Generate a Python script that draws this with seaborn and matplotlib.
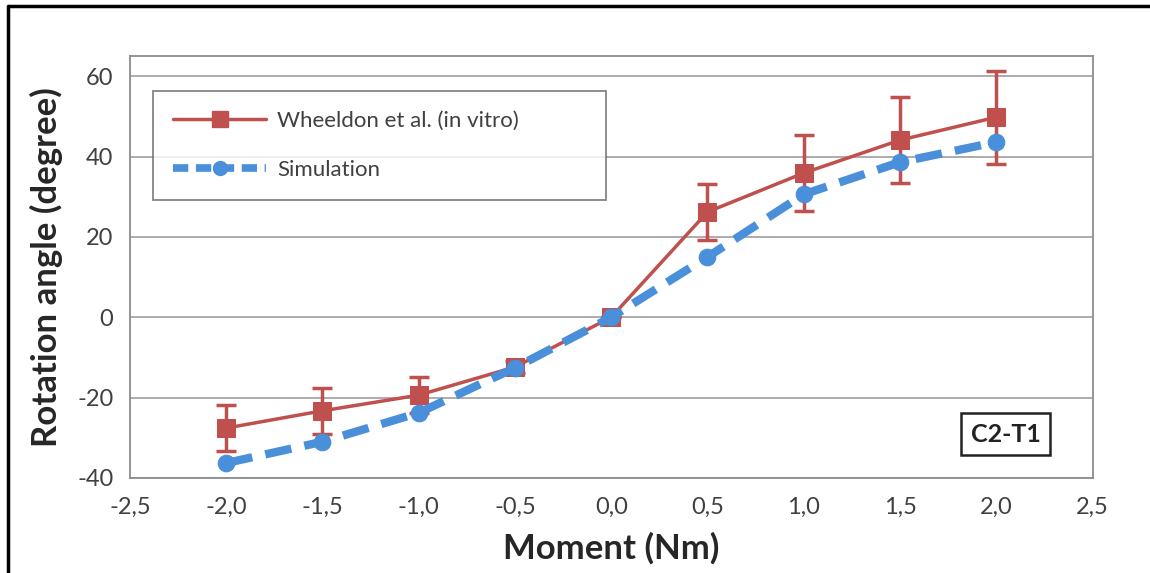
import numpy as np
import pandas as pd
import matplotlib.pyplot as plt
import seaborn as sns
from matplotlib.lines import Line2D

# data
moment = [-2.0, -1.5, -1.0, -0.5, 0.0, 0.5, 1.0, 1.5, 2.0]
wheeldon = [-27.6, -23.3, -19.4, -12.4, 0.0, 26.2, 35.9, 44.1, 49.8]
wheeldon_err = [5.8, 5.7, 4.4, 1.5, 0.0, 7.0, 9.5, 10.7, 11.6]
simulation = [-36.3, -31.0, -23.8, -12.6, 0.0, 15.0, 30.6, 38.6, 43.6]

x_ticks = [-2.5, -2.0, -1.5, -1.0, -0.5, 0.0, 0.5, 1.0, 1.5, 2.0, 2.5]
y_ticks = [-40, -20, 0, 20, 40, 60]

RED = '#C0504D'
BLUE = '#4A8FDA'

sns.set_style('white')
plt.rcParams['font.family'] = ['Lato', 'DejaVu Sans']

df = pd.DataFrame({'Moment': moment, 'Wheeldon': wheeldon, 'Simulation': simulation})

fig = plt.figure(figsize=(11.5, 5.73), dpi=100)
ax = fig.add_axes([0.113, 0.166, 0.837, 0.736])

ax.errorbar(moment, wheeldon, yerr=wheeldon_err, fmt='none', ecolor=RED,
            elinewidth=2.5, capsize=7, capthick=2.5, zorder=2)
sns.lineplot(data=df, x='Moment', y='Wheeldon', ax=ax, color=RED, linewidth=2.5,
             marker='s', markersize=13, markeredgecolor=RED, zorder=3)
sns.lineplot(data=df, x='Moment', y='Simulation', ax=ax, color=BLUE, linewidth=6,
             linestyle=(0, (3.2, 1.6)), marker='o', markersize=12, markeredgecolor=BLUE, zorder=4)

ax.set_xlim(-2.5, 2.5)
ax.set_ylim(-40, 65)
ax.set_xticks(x_ticks)
ax.set_xticklabels([f'{v:.1f}'.replace('.', ',') for v in x_ticks])
ax.set_yticks(y_ticks)
ax.set_yticklabels([str(v) for v in y_ticks])
ax.tick_params(axis='both', labelsize=17, labelcolor='#404040', color='#999999',
               length=6, width=1)
ax.tick_params(axis='x', pad=8)
ax.tick_params(axis='y', pad=6)
ax.grid(axis='y', color='#A6A6A6', linewidth=1.3)
ax.set_axisbelow(True)
for s in ax.spines.values():
    s.set_color('#8C8C8C')
    s.set_linewidth(1.3)

ax.set_xlabel('Moment (Nm)', fontsize=25, fontweight='bold', labelpad=10)
ax.set_ylabel('Rotation angle (degree)', fontsize=25, fontweight='bold', labelpad=10)

handles = [
    Line2D([], [], color=RED, linewidth=2.5, marker='s', markersize=11),
    Line2D([], [], color=BLUE, linewidth=5.5, linestyle=(0, (2, 1)), marker='o', markersize=10),
]
leg = ax.legend(handles, ['Wheeldon et al. (in vitro)', 'Simulation'],
                loc='upper left', bbox_to_anchor=(0.024, 0.682, 0.471, 0.235),
                mode='expand', fontsize=16,
                frameon=True, fancybox=False, handlelength=4.2, labelspacing=1.3,
                borderpad=0.9, handletextpad=0.5, borderaxespad=0)
leg.get_frame().set_edgecolor('#666666')
leg.get_frame().set_linewidth(1.3)
for t in leg.get_texts():
    t.set_color('#404040')

ax.text(0.91, 0.104, 'C2-T1', transform=ax.transAxes, fontsize=18, fontweight='bold',
        ha='center', va='center', color='#222222',
        bbox=dict(boxstyle='square,pad=0.38', facecolor='white', edgecolor='#222222', linewidth=1.8))

# outer frame lines (left and top)
fig.add_artist(Line2D([0.007, 0.007], [0, 0.99], color='black', linewidth=2.5))
fig.add_artist(Line2D([0.007, 1.0], [0.99, 0.99], color='black', linewidth=2.5))

fig.savefig('out.png', dpi=100)
